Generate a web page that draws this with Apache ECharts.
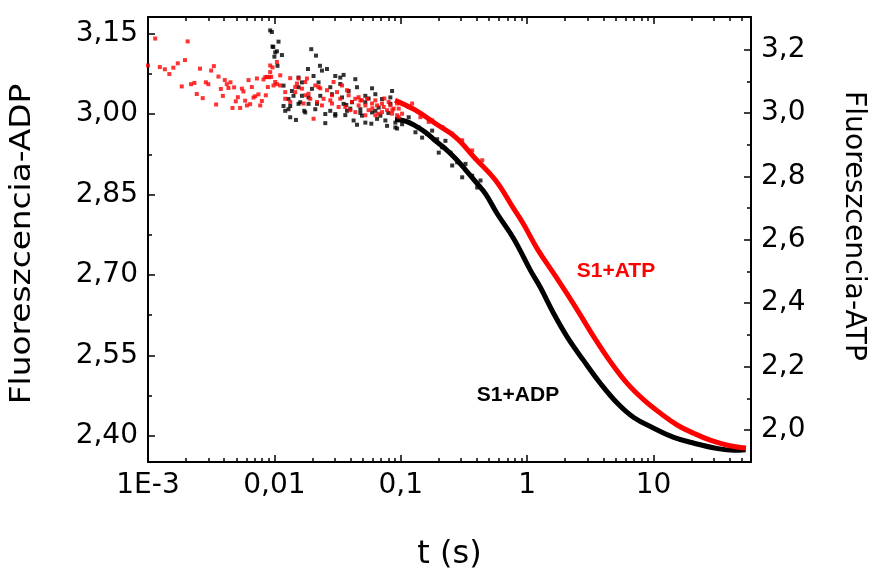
<!DOCTYPE html>
<html>
<head>
<meta charset="utf-8">
<script src="https://cdn.jsdelivr.net/npm/echarts@6/dist/echarts.min.js"></script>
<style>html,body{margin:0;padding:0;background:#fff}#c{width:875px;height:570px}</style>
</head>
<body>
<div id="c"></div>
<script>
// ---- axis ranges and ticks ----
const X_MIN = 0.001, X_MAX = 59;
const xMajor = [0.001, 0.01, 0.1, 1, 10];
const xMajorLabels = ['1E-3', '0,01', '0,1', '1', '10'];
const xMinor = [0.002,0.003,0.004,0.005,0.006,0.007,0.008,0.009,
                0.02,0.03,0.04,0.05,0.06,0.07,0.08,0.09,
                0.2,0.3,0.4,0.5,0.6,0.7,0.8,0.9,
                2,3,4,5,6,7,8,9,
                20,30,40,50];
const yLeftMin = 2.351, yLeftMax = 3.181;
const yLeftMajor = [2.40, 2.55, 2.70, 2.85, 3.00, 3.15];
const yLeftMinor = [2.475, 2.625, 2.775, 2.925, 3.075];
const yRightMin = 1.899, yRightMax = 3.303;
const yRightMajor = [2.0, 2.2, 2.4, 2.6, 2.8, 3.0, 3.2];
const yRightMinor = [2.1, 2.3, 2.5, 2.7, 2.9, 3.1];

// ---- S1+ADP (left axis): noisy early points [t, F] ----
const adpScatter = [
 [0.00926,3.156],[0.00955,3.153],[0.00966,3.126],[0.0098,3.125],[0.01078,3.135],[0.01047,3.117],
 [0.01,3.107],[0.01015,3.115],[0.01147,3.110],[0.01058,3.090],[0.01957,3.121],[0.02133,3.109],
 [0.01843,3.084],[0.02294,3.090],[0.02379,3.081],[0.02606,3.084],[0.02041,3.071],[0.01552,3.068],
 [0.01652,3.059],[0.03032,3.071],[0.0332,3.068],[0.03528,3.073],[0.04368,3.065],[0.05924,3.048],
 [0.08531,3.043],[0.01181,3.015],[0.01218,3.006],[0.01334,2.994],[0.01481,2.989],[0.01601,3.022],
 [0.01863,3.019],[0.02172,3.019],[0.02527,2.983],[0.03032,3.000],[0.03639,2.998],[0.04505,2.980],
 [0.04935,2.997],[0.05848,2.982],[0.06893,2.997],[0.07551,2.988],[0.09348,2.973],[0.1024,2.988],
 [0.01417,3.034],[0.01863,3.031],[0.02307,3.034],[0.02855,3.037],[0.03426,3.031],[0.04113,3.022],
 [0.05243,3.022],[0.06683,3.012],[0.08272,3.019],[0.01181,3.053],[0.01552,3.050],[0.01293,3.028],
 [0.02767,3.006],[0.03987,3.010],[0.04786,3.002],[0.06291,3.006],[0.07975,3.002],[0.05567,3.029],
 [0.03707,3.017],[0.01722,3.006],[0.01334,3.015],
 [0.01376,3.043],[0.01652,3.034],[0.01982,3.047],[0.02236,3.059],[0.02769,3.050],[0.0332,3.056],
 [0.03866,3.043],[0.04505,3.050],[0.05243,3.034],[0.06291,3.037],[0.07108,3.028],[0.08272,3.031],
 [0.01293,3.009],[0.01754,3.003],[0.02106,3.009],[0.02527,3.000],[0.03032,2.997],[0.03753,3.006],
 [0.04236,2.988],[0.05243,2.984],[0.06491,2.991],[0.07787,2.978],[0.0906,2.984],[0.01552,3.019],
 [0.03528,3.019],[0.04786,3.009],[0.05924,3.003],
 [0.0906,2.975],[0.1306,2.966],[0.1475,2.956],[0.1997,2.928],[0.255,2.904],[0.306,2.882],
 [0.2256,2.950],[0.177,2.969],[0.1024,2.981],[0.1155,2.994],[0.1387,2.975],[0.1616,2.963],
 [0.194,2.953],[0.2125,2.938],[0.2472,2.928],[0.2793,2.910],[0.3251,2.907],[0.3673,2.885],
 [0.4273,2.876],[0.4023,2.863]
];
// ---- S1+ADP (left axis): main decay ----
const adpCurve = [
 [0.09,2.990],[0.1088,2.987],[0.1306,2.978],[0.1566,2.966],[0.188,2.950],[0.2256,2.935],
 [0.2708,2.917],[0.3251,2.896],[0.3901,2.874],[0.4683,2.851],[0.5796,2.814],[0.7846,2.767],
 [1.064,2.708],[1.276,2.676],[1.62,2.628],[2.09,2.583],[2.80,2.540],
 [3.815,2.497],[5.20,2.460],[6.97,2.434],[10.04,2.414],[14.45,2.397],[20.94,2.386],
 [32.3,2.376],[43.2,2.373],[53.5,2.374]
];
// ---- S1+ATP (right axis): noisy early points [t, F] ----
const atpScatter = [
 [0.001,3.150],[0.00114,3.235],[0.00124,3.145],[0.00136,3.138],[0.001475,3.123],[0.001587,3.143],
 [0.00172,3.157],[0.00185,3.084],[0.00196,3.167],[0.00206,3.226],[0.00219,3.091],[0.00233,3.095],
 [0.00243,3.060],[0.00258,3.140],[0.00271,3.047],[0.00287,3.097],[0.003,3.091],[0.00316,3.134],
 [0.00332,3.148],[0.00346,3.027],[0.00361,3.115],[0.00377,3.076],[0.00391,3.054],[0.00405,3.104],
 [0.0042,3.091],[0.00433,3.079],[0.00449,3.097],[0.00466,3.016],[0.0048,3.081],[0.00495,3.037],
 [0.00514,3.050],[0.00536,3.016],[0.00553,3.077],[0.00569,3.068],[0.00587,3.039],[0.00606,3.024],
 [0.00624,3.104],[0.00643,3.028],[0.00663,3.082],[0.00683,3.049],[0.00705,3.053],[0.00727,3.109],
 [0.00748,3.059],[0.00772,3.024],[0.00796,3.038],[0.0082,3.106],[0.00846,3.113],[0.00856,3.056],
 [0.00888,3.082],[0.00909,3.113],[0.00926,3.129],[0.00943,3.114],[0.00966,3.144],[0.00984,3.087],
 [0.01015,3.098],[0.01047,3.091],[0.00872,3.114],[0.00926,3.150],[0.01047,3.161],[0.01112,3.119],
 [0.01112,3.087],[0.01334,3.110],[0.01552,3.109],[0.01809,3.109],[0.01652,3.077],[0.02106,3.087],
 [0.02041,2.982],[0.01863,3.061],[0.02449,3.045],[0.02855,3.056],[0.0332,3.045],[0.03753,3.072],
 [0.04113,3.035],[0.04638,3.050],[0.05243,3.024],[0.06291,3.040],[0.07108,3.030],[0.08272,3.024],
 [0.09625,3.014],[0.01218,3.045],[0.01462,3.066],[0.02172,3.035],[0.02855,3.030],[0.03639,3.019],
 [0.04368,3.003],[0.05567,3.009],[0.06683,2.998],[0.07787,3.009],[0.09348,2.993],[0.01462,3.082],
 [0.02939,3.098],[0.03426,3.087],[0.01754,3.056],[0.02307,3.078],[0.04786,3.040],[0.05957,3.015],
 [0.07413,3.046],[0.08578,3.009],[0.1024,2.998],[0.1229,3.030],[0.1663,2.972],
 [0.01508,3.093],[0.01754,3.098],[0.02236,3.082],[0.02606,3.072],[0.03127,3.066],[0.03866,3.056],
 [0.04368,3.045],[0.04935,3.040],[0.05408,3.045],[0.05924,3.030],[0.06491,3.024],[0.07321,3.019],
 [0.08017,3.035],[0.08785,3.014],[0.09348,3.030],[0.01218,3.066],[0.01334,3.035],[0.017,3.030],
 [0.01922,3.045],[0.02379,3.024],[0.02769,3.040],[0.03221,3.019],[0.03987,3.009],[0.04638,3.024],
 [0.05243,2.993],[0.06291,2.993],[0.07108,3.003],[0.08531,2.998],[0.09625,2.987],
 [0.1155,3.019],[0.143,2.987],[0.177,2.977],[0.2125,2.956],[0.255,2.935],[0.306,2.914],
 [0.3673,2.882],[0.4409,2.851]
];
// ---- S1+ATP (right axis): main decay ----
const atpCurve = [
 [0.09,3.040],[0.1306,3.009],[0.188,2.967],[0.2708,2.924],[0.3901,2.856],[0.5618,2.788],
 [0.78,2.699],[0.9366,2.649],[1.209,2.570],[1.62,2.494],[2.418,2.387],[3.377,2.293],
 [4.58,2.214],[6.21,2.146],[8.41,2.094],[11.4,2.052],[15.47,2.015],[20.94,1.989],
 [28.4,1.967],[38.5,1.952],[53.8,1.943]
];

const FONT = 'DejaVu Sans';
const AX = '#000';
function xLabel(v) {
  let best = 0, bd = 1e9;
  for (let i = 0; i < xMajor.length; i++) {
    const d = Math.abs(Math.log10(v) - Math.log10(xMajor[i]));
    if (d < bd) { bd = d; best = i; }
  }
  return xMajorLabels[best];
}
const comma = (n) => (v) => v.toFixed(n).replace('.', ',');

function xAxisDef(pos, major, showLine, showLabel) {
  return {
    type: 'log', logBase: 10, min: X_MIN, max: X_MAX, position: pos, gridIndex: 0,
    axisLine: { show: showLine, onZero: false, lineStyle: { color: AX, width: 2 } },
    axisTick: { show: true, inside: true, length: major ? 7 : 4,
      lineStyle: { color: AX, width: 1.5 }, customValues: major ? xMajor : xMinor },
    axisLabel: showLabel ? { show: true, customValues: xMajor, formatter: xLabel,
      fontSize: 28, fontFamily: FONT, color: '#000', margin: 10 } : { show: false },
    splitLine: { show: false }
  };
}
function yAxisDef(pos, min, max, major, minor, dec, isMajor) {
  return {
    type: 'value', min: min, max: max, position: pos, gridIndex: 0,
    axisLine: { show: isMajor, onZero: false, lineStyle: { color: AX, width: 2 } },
    axisTick: { show: true, inside: true, length: isMajor ? 7 : 4,
      lineStyle: { color: AX, width: 1.5 }, customValues: isMajor ? major : minor },
    axisLabel: isMajor ? { show: true, customValues: major, formatter: comma(dec),
      fontSize: 28, fontFamily: FONT, color: '#000', margin: 10 } : { show: false },
    splitLine: { show: false }
  };
}

const xb = xAxisDef('bottom', true, true, true);
xb.name = 't (s)';
xb.nameLocation = 'middle';
xb.nameGap = 77;
xb.nameTextStyle = { fontSize: 32, fontFamily: FONT, color: '#000' };

const chart = echarts.init(document.getElementById('c'), null, { renderer: 'canvas' });
chart.setOption({
  animation: false,
  backgroundColor: '#fff',
  grid: { left: 148, top: 17, width: 603, height: 445, containLabel: false, outerBoundsMode: 'none' },
  xAxis: [
    xb,
    xAxisDef('bottom', false, false, false),
    xAxisDef('top', true, true, false),
    xAxisDef('top', false, false, false)
  ],
  yAxis: [
    yAxisDef('left', yLeftMin, yLeftMax, yLeftMajor, yLeftMinor, 2, true),
    yAxisDef('left', yLeftMin, yLeftMax, yLeftMajor, yLeftMinor, 2, false),
    yAxisDef('right', yRightMin, yRightMax, yRightMajor, yRightMinor, 1, true),
    yAxisDef('right', yRightMin, yRightMax, yRightMajor, yRightMinor, 1, false)
  ],
  series: [
    { name: 'S1+ADP', type: 'line', xAxisIndex: 0, yAxisIndex: 0, data: adpCurve,
      smooth: 0.4, showSymbol: false, symbol: 'none',
      lineStyle: { color: '#000', width: 5 }, z: 2 },
    { name: 'S1+ADP pts', type: 'scatter', xAxisIndex: 0, yAxisIndex: 0, data: adpScatter,
      symbol: 'rect', symbolSize: 4, itemStyle: { color: '#000' }, z: 2 },
    { name: 'S1+ATP', type: 'line', xAxisIndex: 0, yAxisIndex: 2, data: atpCurve,
      smooth: 0.4, showSymbol: false, symbol: 'none',
      lineStyle: { color: '#ff0000', width: 5 }, z: 3 },
    { name: 'S1+ATP pts', type: 'scatter', xAxisIndex: 0, yAxisIndex: 2, data: atpScatter,
      symbol: 'rect', symbolSize: 4, itemStyle: { color: '#ff0000' }, z: 3 }
  ],
  graphic: [
    { type: 'text', x: 23, y: 244, rotation: Math.PI / 2, scaleX: 1.17,
      style: { text: 'Fluoreszcencia-ADP', x: 0, y: 0, fill: '#000',
        font: '28px "DejaVu Sans"', align: 'center', verticalAlign: 'middle',
        textAlign: 'center', textVerticalAlign: 'middle' } },
    { type: 'text', x: 853, y: 226, rotation: -Math.PI / 2, scaleX: 1.01,
      style: { text: 'Fluoreszcencia-ATP', x: 0, y: 0, fill: '#000',
        font: '28px "DejaVu Sans"', align: 'center', verticalAlign: 'middle',
        textAlign: 'center', textVerticalAlign: 'middle' } },
    { type: 'text', x: 616, y: 271,
      style: { text: 'S1+ATP', x: 0, y: 0, fill: '#ff0000',
        font: 'bold 21px "Liberation Sans"', align: 'center', verticalAlign: 'middle',
        textAlign: 'center', textVerticalAlign: 'middle' } },
    { type: 'text', x: 518, y: 395,
      style: { text: 'S1+ADP', x: 0, y: 0, fill: '#000',
        font: 'bold 21px "Liberation Sans"', align: 'center', verticalAlign: 'middle',
        textAlign: 'center', textVerticalAlign: 'middle' } }
  ]
});
</script>
</body>
</html>
